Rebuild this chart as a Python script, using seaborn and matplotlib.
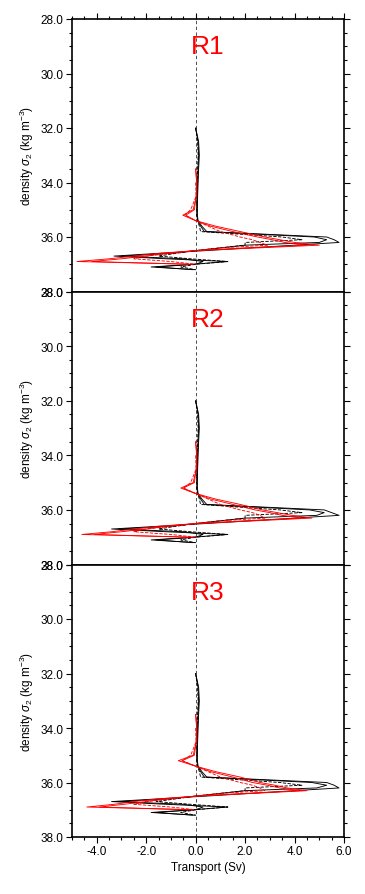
import numpy as np
import matplotlib
matplotlib.use("Agg")
import matplotlib.pyplot as plt
import seaborn as sns
from matplotlib.ticker import MultipleLocator, FormatStrFormatter

nan = np.nan

# density levels (sigma_2, kg m-3)
sigma = [32.0, 32.5, 33.0, 33.5, 34.0, 34.5, 35.0, 35.2, 35.4, 35.6, 35.8, 36.0,
         36.1, 36.2, 36.3, 36.4, 36.5, 36.6, 36.7, 36.8, 36.9, 37.0, 37.1, 37.2]

# transport (Sv) per region
r1_blk_a = [0.00, 0.12, 0.15, 0.12, 0.10, 0.08, 0.07, 0.07, 0.10, 0.25, 0.45, 5.30,
            5.60, 5.80, 4.00, 2.20, 0.40, -1.50, -3.30, -1.20, 1.30, -0.10, -1.80, 0.00]
r1_blk_b = [0.00, 0.10, 0.12, 0.10, 0.08, 0.06, 0.05, 0.05, 0.08, 0.20, 0.35, 4.80,
            5.30, 5.00, 2.00, 1.00, 0.00, -1.00, -3.00, -0.50, 0.30, 0.00, -1.60, -0.10]
r1_blk_d = [0.00, 0.08, 0.10, 0.08, 0.06, 0.05, 0.05, 0.05, 0.08, 0.15, 0.20, 3.50,
            4.30, 2.00, 2.00, 1.00, 0.00, -0.80, -1.50, -0.20, 1.30, 0.00, -0.60, 0.00]
r1_red_a = [nan, nan, nan, 0.00, 0.05, 0.03, -0.10, -0.52, 0.00, 0.80, 1.80, 2.80,
            3.40, 4.00, 5.00, 2.50, 0.00, -1.50, -2.50, -3.50, -4.80, -0.10, nan, nan]
r1_red_b = [nan, nan, nan, 0.00, 0.04, 0.02, -0.05, -0.40, 0.00, 0.60, 1.50, 2.50,
            3.10, 3.60, 4.50, 2.00, 0.00, -1.20, -2.00, -3.00, -4.20, -0.30, nan, nan]
r1_red_d = [nan, nan, nan, nan, 0.00, 0.02, -0.20, -0.45, 0.00, 0.50, 1.00, 1.80,
            2.30, 2.60, 2.90, 1.00, 0.00, -1.00, -2.00, -2.50, -1.00, 0.00, nan, nan]

r2_blk_a = [0.00, 0.12, 0.15, 0.12, 0.10, 0.08, 0.07, 0.07, 0.10, 0.25, 0.45, 5.20,
            5.50, 5.80, 4.00, 2.20, 0.40, -1.50, -3.40, -1.20, 1.30, -0.10, -1.80, 0.00]
r2_blk_b = [0.00, 0.10, 0.12, 0.10, 0.08, 0.06, 0.05, 0.05, 0.08, 0.20, 0.35, 4.60,
            5.20, 4.90, 2.00, 1.00, 0.00, -1.00, -3.10, -0.50, 0.30, 0.00, -1.60, -0.10]
r2_blk_d = [0.00, 0.08, 0.10, 0.08, 0.06, 0.05, 0.05, 0.05, 0.08, 0.15, 0.20, 3.40,
            4.30, 2.00, 2.00, 1.00, 0.00, -0.80, -1.50, -0.20, 1.30, 0.00, -0.60, 0.00]
r2_red_a = [nan, nan, nan, 0.00, 0.05, 0.03, -0.10, -0.60, 0.00, 0.80, 1.80, 2.70,
            3.30, 3.90, 4.70, 2.40, 0.00, -1.50, -2.50, -3.40, -4.60, -0.10, nan, nan]
r2_red_b = [nan, nan, nan, 0.00, 0.04, 0.02, -0.05, -0.50, 0.00, 0.60, 1.50, 2.40,
            3.00, 3.50, 4.30, 2.00, 0.00, -1.20, -2.00, -3.00, -4.10, -0.30, nan, nan]
r2_red_d = [nan, nan, nan, nan, 0.00, 0.02, -0.20, -0.50, 0.00, 0.50, 1.00, 1.80,
            2.30, 2.60, 2.80, 1.00, 0.00, -1.00, -2.00, -2.50, -1.00, 0.00, nan, nan]

r3_blk_a = [0.00, 0.12, 0.15, 0.12, 0.10, 0.08, 0.07, 0.07, 0.10, 0.25, 0.45, 5.30,
            5.60, 5.80, 4.00, 2.20, 0.40, -1.50, -3.40, -1.20, 1.30, -0.10, -1.80, 0.00]
r3_blk_b = [0.00, 0.10, 0.12, 0.10, 0.08, 0.06, 0.05, 0.05, 0.08, 0.20, 0.35, 4.70,
            5.30, 4.90, 2.00, 1.00, 0.00, -1.00, -3.10, -0.50, 0.30, 0.00, -1.60, -0.10]
r3_blk_d = [0.00, 0.08, 0.10, 0.08, 0.06, 0.05, 0.05, 0.05, 0.08, 0.15, 0.20, 3.40,
            4.30, 2.00, 2.00, 1.00, 0.00, -0.80, -1.60, -0.20, 1.30, 0.00, -0.60, 0.00]
r3_red_a = [nan, nan, nan, 0.00, 0.05, 0.03, -0.10, -0.70, 0.00, 0.80, 1.80, 2.60,
            3.20, 3.70, 4.50, 2.30, 0.00, -1.50, -2.50, -3.30, -4.40, -0.10, nan, nan]
r3_red_b = [nan, nan, nan, 0.00, 0.04, 0.02, -0.05, -0.55, 0.00, 0.60, 1.50, 2.30,
            2.90, 3.40, 4.20, 2.00, 0.00, -1.20, -2.00, -2.90, -3.90, -0.30, nan, nan]
r3_red_d = [nan, nan, nan, nan, 0.00, 0.02, -0.20, -0.55, 0.00, 0.50, 1.00, 1.80,
            2.30, 2.60, 2.80, 1.00, 0.00, -1.00, -2.00, -2.50, -1.00, 0.00, nan, nan]

regions = ["R1", "R2", "R3"]
profiles = [
    [r1_blk_a, r1_blk_b, r1_blk_d, r1_red_a, r1_red_b, r1_red_d],
    [r2_blk_a, r2_blk_b, r2_blk_d, r2_red_a, r2_red_b, r2_red_d],
    [r3_blk_a, r3_blk_b, r3_blk_d, r3_red_a, r3_red_b, r3_red_d],
]
styles = [("black", "-"), ("black", "-"), ("black", "--"),
          ("red", "-"), ("red", "-"), ("red", "--")]

sns.set_style("ticks")
plt.rcParams["font.family"] = ["Liberation Sans", "DejaVu Sans"]
plt.rcParams["mathtext.fontset"] = "custom"
plt.rcParams["mathtext.it"] = "Liberation Sans:italic"
plt.rcParams["mathtext.rm"] = "Liberation Sans"
plt.rcParams["text.color"] = "black"
plt.rcParams["axes.labelcolor"] = "black"
plt.rcParams["xtick.color"] = "black"
plt.rcParams["ytick.color"] = "black"
plt.rcParams["axes.edgecolor"] = "black"

fig = plt.figure(figsize=(3.65, 8.95), dpi=100)

left, width = 72 / 365, 272 / 365
tops = [20, 292.5, 565.5]
bottoms = [292.5, 565.5, 838]

for i, name in enumerate(regions):
    y0 = 1 - bottoms[i] / 895
    h = (bottoms[i] - tops[i]) / 895
    ax = fig.add_axes([left, y0, width, h])

    ax.axvline(0, color="#333333", ls=(0, (4, 3)), lw=0.6, zorder=1)
    for vals, (col, ls) in zip(profiles[i], styles):
        sns.lineplot(x=vals, y=sigma, sort=False, estimator=None,
                     color=col, linestyle=ls, lw=0.65, ax=ax)

    ax.set_xlim(-5, 6)
    ax.set_ylim(38, 28)
    ax.yaxis.set_major_locator(MultipleLocator(2))
    ax.yaxis.set_minor_locator(MultipleLocator(0.5))
    ax.yaxis.set_major_formatter(FormatStrFormatter("%.1f"))
    ax.xaxis.set_major_locator(MultipleLocator(2))
    ax.xaxis.set_minor_locator(MultipleLocator(0.5))
    ax.xaxis.set_major_formatter(FormatStrFormatter("%.1f"))

    ax.tick_params(which="both", direction="out", right=True, labelsize=8.5,
                   width=0.8, pad=2)
    ax.tick_params(which="major", length=4)
    ax.tick_params(which="minor", length=2.5)
    ax.tick_params(axis="x", which="both", top=(i == 0), bottom=(i == 2),
                   labelbottom=(i == 2))
    for s in ax.spines.values():
        s.set_linewidth(1.2)
        s.set_visible(True)

    ax.set_ylabel(r"density $\sigma_2$ (kg m$^{-3}$)", fontsize=8.5, labelpad=3)
    ax.set_xlabel("Transport (Sv)" if i == 2 else "", fontsize=8.5, labelpad=3)
    ax.text(0.5, 0.9, name, transform=ax.transAxes, color="red",
            fontsize=19, ha="center", va="center")

fig.savefig("out.png", dpi=100)
